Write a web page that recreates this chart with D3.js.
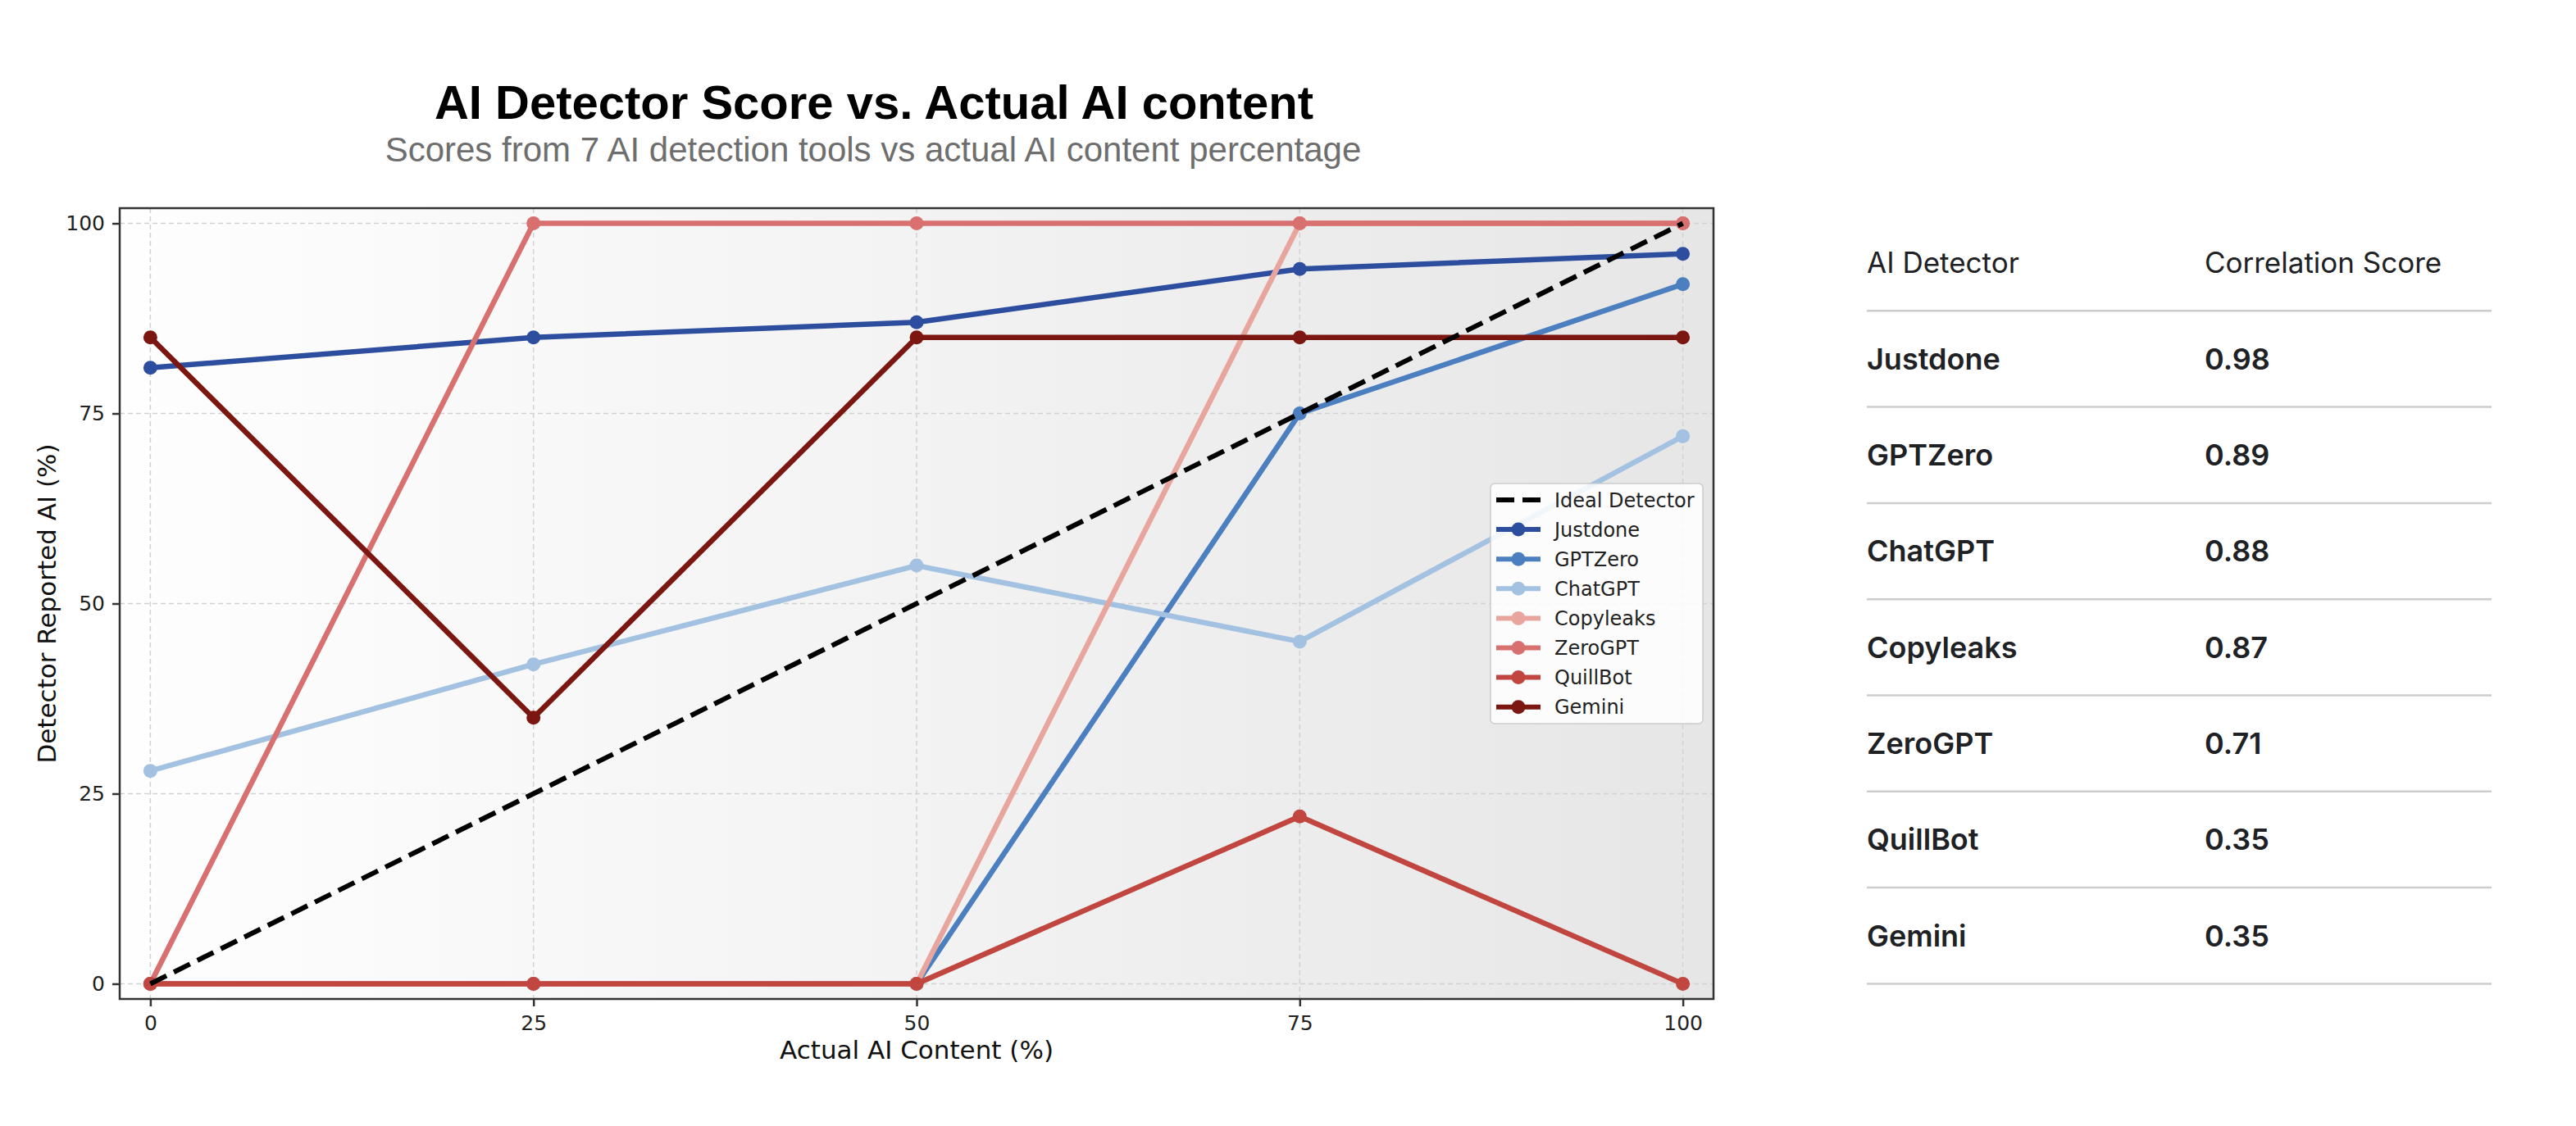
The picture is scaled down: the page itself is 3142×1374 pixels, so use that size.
<!DOCTYPE html>
<html><head><meta charset="utf-8">
<script src="https://cdn.jsdelivr.net/npm/d3@7"></script>
<style>body{margin:0;background:#fff;overflow:hidden}</style>
</head><body>
<svg id="chart" width="3142" height="1374"></svg>
<script>
// ---- data ----
const xValues = [0, 25, 50, 75, 100];
const seriesNames = ["Justdone", "GPTZero", "ChatGPT", "Copyleaks", "ZeroGPT", "QuillBot", "Gemini"];
const justdone  = [81, 85, 87, 94, 96];
const gptzero   = [0, 0, 0, 75, 92];
const chatgpt   = [28, 42, 55, 45, 72];
const copyleaks = [0, 0, 0, 100, 100];
const zerogpt   = [0, 100, 100, 100, 100];
const quillbot  = [0, 0, 0, 22, 0];
const gemini    = [85, 35, 85, 85, 85];
const ideal     = [0, 25, 50, 75, 100];
const seriesValues = [justdone, gptzero, chatgpt, copyleaks, zerogpt, quillbot, gemini];
const seriesColors = ["#2d4e9f", "#4b7fc0", "#a3c1e0", "#e8a59e", "#d87070", "#c1463f", "#7b1710"];
const idealLabel = "Ideal Detector";
const xTicks = [0, 25, 50, 75, 100];
const yTicks = [0, 25, 50, 75, 100];
const tableHeaders = ["AI Detector", "Correlation Score"];
const tableDetectors = ["Justdone", "GPTZero", "ChatGPT", "Copyleaks", "ZeroGPT", "QuillBot", "Gemini"];
const tableScores = ["0.98", "0.89", "0.88", "0.87", "0.71", "0.35", "0.35"];
const titleText = "AI Detector Score vs. Actual AI content";
const subtitleText = "Scores from 7 AI detection tools vs actual AI content percentage";
const xLabel = "Actual AI Content (%)";
const yLabel = "Detector Reported AI (%)";

// ---- layout ----
const P = {left: 146, right: 2090, top: 254, bottom: 1219};
const svg = d3.select("#chart");
const x = d3.scaleLinear().domain([-2, 102]).range([P.left, P.right]);
const y = d3.scaleLinear().domain([-2, 102]).range([P.bottom, P.top]);
const mplFont = "'DejaVu Sans', sans-serif";

// background gradient
const defs = svg.append("defs");
const grad = defs.append("linearGradient").attr("id", "bg").attr("x1", 0).attr("x2", 1).attr("y1", 0).attr("y2", 0);
grad.append("stop").attr("offset", 0).attr("stop-color", "#fefefe");
grad.append("stop").attr("offset", 0.45).attr("stop-color", "#f4f4f4");
grad.append("stop").attr("offset", 1).attr("stop-color", "#e6e6e6");
svg.append("rect").attr("x", P.left).attr("y", P.top)
  .attr("width", P.right - P.left).attr("height", P.bottom - P.top)
  .attr("fill", "url(#bg)");

// grid
const grid = svg.append("g");
grid.selectAll(".gx").data(xTicks).join("line")
  .attr("x1", d => x(d)).attr("x2", d => x(d)).attr("y1", P.top).attr("y2", P.bottom)
  .attr("stroke", "#d2d2d2").attr("stroke-width", 1.5).attr("stroke-dasharray", "6,4");
grid.selectAll(".gy").data(yTicks).join("line")
  .attr("y1", d => y(d)).attr("y2", d => y(d)).attr("x1", P.left).attr("x2", P.right)
  .attr("stroke", "#d2d2d2").attr("stroke-width", 1.5).attr("stroke-dasharray", "6,4");

// series lines
const line = d3.line().x((d, i) => x(xValues[i])).y(d => y(d));
seriesValues.forEach((vals, k) => {
  const g = svg.append("g");
  g.append("path").datum(vals).attr("d", line).attr("fill", "none")
    .attr("stroke", seriesColors[k]).attr("stroke-width", 6.5).attr("stroke-linejoin", "round");
  g.selectAll("circle").data(vals).join("circle")
    .attr("cx", (d, i) => x(xValues[i])).attr("cy", d => y(d)).attr("r", 8.5)
    .attr("fill", seriesColors[k]);
});
// ideal dashed line
svg.append("path").datum(ideal).attr("d", line).attr("fill", "none")
  .attr("stroke", "#000").attr("stroke-width", 6).attr("stroke-dasharray", "22,10");

// frame
svg.append("rect").attr("x", P.left).attr("y", P.top)
  .attr("width", P.right - P.left).attr("height", P.bottom - P.top)
  .attr("fill", "none").attr("stroke", "#333").attr("stroke-width", 2.5);

// axes
const xAxis = svg.append("g").attr("transform", `translate(0,${P.bottom})`)
  .call(d3.axisBottom(x).tickValues(xTicks).tickSize(9).tickPadding(11).tickFormat(d3.format("d")));
const yAxis = svg.append("g").attr("transform", `translate(${P.left},0)`)
  .call(d3.axisLeft(y).tickValues(yTicks).tickSize(9).tickPadding(9).tickFormat(d3.format("d")));
[xAxis, yAxis].forEach(a => {
  a.select(".domain").remove();
  a.selectAll(".tick line").attr("stroke", "#333").attr("stroke-width", 2.5);
  a.selectAll(".tick text").attr("font-family", mplFont).attr("font-size", 25).attr("fill", "#222");
});

// axis labels
svg.append("text").attr("x", x(50)).attr("y", 1292).attr("text-anchor", "middle")
  .attr("font-family", mplFont).attr("font-size", 31).attr("fill", "#111").text(xLabel);
svg.append("text").attr("transform", `translate(68,${(P.top + P.bottom) / 2}) rotate(-90)`)
  .attr("text-anchor", "middle")
  .attr("font-family", mplFont).attr("font-size", 31).attr("fill", "#111").text(yLabel);

// title
svg.append("text").attr("x", 1066).attr("y", 145).attr("text-anchor", "middle")
  .attr("font-family", "'Liberation Sans', Arial, sans-serif").attr("font-weight", "bold")
  .attr("font-size", 58).attr("fill", "#000").text(titleText);
svg.append("text").attr("x", 1065).attr("y", 197).attr("text-anchor", "middle")
  .attr("font-family", "'Liberation Sans', Arial, sans-serif")
  .attr("font-size", 42).attr("fill", "#6e6e6e").text(subtitleText);

// legend
const L = {x: 1818, y: 590, w: 259, h: 293, rowY: 610, rowH: 36.1};
const leg = svg.append("g");
leg.append("rect").attr("x", L.x).attr("y", L.y).attr("width", L.w).attr("height", L.h)
  .attr("rx", 5).attr("fill", "#fff").attr("fill-opacity", 0.85)
  .attr("stroke", "#cccccc").attr("stroke-width", 1.5);
const legItems = [{name: idealLabel, color: "#000", dashed: true}]
  .concat(seriesNames.map((n, i) => ({name: n, color: seriesColors[i], dashed: false})));
legItems.forEach((it, i) => {
  const cy = L.rowY + i * L.rowH;
  const ln = leg.append("line").attr("x1", 1825).attr("x2", 1879).attr("y1", cy).attr("y2", cy)
    .attr("stroke", it.color).attr("stroke-width", 6);
  if (it.dashed) ln.attr("stroke-dasharray", "22,10");
  else leg.append("circle").attr("cx", 1852).attr("cy", cy).attr("r", 8.5).attr("fill", it.color);
  leg.append("text").attr("x", 1896).attr("y", cy).attr("dy", "0.36em")
    .attr("font-family", mplFont).attr("font-size", 24).attr("fill", "#222").text(it.name);
});

// table
const T = {x1: 2277, x2: 3039, col2: 2689, headY: 333, line0: 379.3, rowH: 117.3, textOff: 71.4};
const tbl = svg.append("g");
const tFont = "Inter, 'Noto Sans', sans-serif";
tbl.selectAll(".hd").data(tableHeaders).join("text")
  .attr("x", (d, i) => i === 0 ? T.x1 : T.col2).attr("y", T.headY)
  .attr("font-family", tFont).attr("font-size", 35).attr("font-weight", 400).attr("fill", "#202124")
  .text(d => d);
tbl.selectAll(".sep").data(d3.range(tableDetectors.length + 1)).join("line")
  .attr("x1", T.x1).attr("x2", T.x2)
  .attr("y1", i => T.line0 + i * T.rowH).attr("y2", i => T.line0 + i * T.rowH)
  .attr("stroke", "#cdcdcd").attr("stroke-width", 2.5);
tbl.selectAll(".nm").data(tableDetectors).join("text")
  .attr("x", T.x1).attr("y", (d, i) => T.line0 + i * T.rowH + T.textOff)
  .attr("font-family", tFont).attr("font-size", 36).attr("font-weight", 600).attr("fill", "#202124")
  .text(d => d);
tbl.selectAll(".sc").data(tableScores).join("text")
  .attr("x", T.col2).attr("y", (d, i) => T.line0 + i * T.rowH + T.textOff)
  .attr("font-family", tFont).attr("font-size", 36).attr("font-weight", 600).attr("fill", "#202124")
  .text(d => d);
</script>
</body></html>
